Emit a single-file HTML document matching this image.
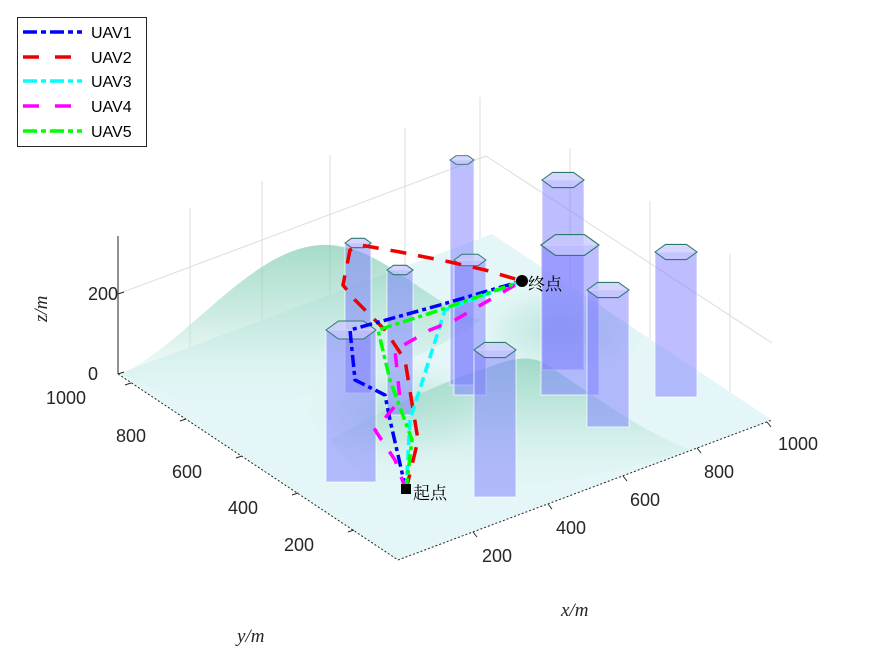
<!DOCTYPE html>
<html><head><meta charset="utf-8"><style>
html,body{margin:0;padding:0;background:#fff;}
svg{display:block;font-family:"Liberation Sans",sans-serif;}
</style></head><body>
<svg width="875" height="656" viewBox="0 0 875 656" xmlns="http://www.w3.org/2000/svg">
<defs>
<radialGradient id="h" cx="50%" cy="50%" r="50%">
<stop offset="0" stop-color="#6cc4a6" stop-opacity="0.9"/>
<stop offset="0.6" stop-color="#9ed9c6" stop-opacity="0.5"/>
<stop offset="1" stop-color="#dff3f1" stop-opacity="0"/>
</radialGradient>
<linearGradient id="hv" x1="0" y1="0" x2="0" y2="1">
<stop offset="0" stop-color="#6cc4a6"/>
<stop offset="0.45" stop-color="#b5e2d6"/>
<stop offset="1" stop-color="#e4f6f7" stop-opacity="0"/>
</linearGradient>
<clipPath id="fl"><polygon points="118,374 492,234 772,420 398,560 118,374"/></clipPath>
<polygon id="hx" points="-0.5,0 -0.25,-0.18 0.25,-0.18 0.5,0 0.25,0.18 -0.25,0.18"/>
</defs>
<g stroke="#dcdcdc" stroke-width="1" fill="none">
<line x1="118" y1="236" x2="118" y2="374"/>
<line x1="190" y1="208" x2="190" y2="347"/>
<line x1="262" y1="181" x2="262" y2="320"/>
<line x1="330" y1="155" x2="330" y2="295"/>
<line x1="405" y1="128" x2="405" y2="267"/>
<line x1="480" y1="97" x2="480" y2="238"/>
<line x1="570" y1="148" x2="570" y2="287"/>
<line x1="650" y1="201" x2="650" y2="340"/>
<line x1="730" y1="254" x2="730" y2="392"/>
<line x1="118" y1="294" x2="486" y2="156"/>
<line x1="486" y1="156" x2="772" y2="343"/>
</g>
<polygon points="118,374 492,234 772,420 398,560" fill="#e4f6f7"/>
<g clip-path="url(#fl)">
<ellipse cx="560" cy="330" rx="90" ry="50" fill="url(#h)" opacity="0.4"/>
<ellipse cx="400" cy="410" rx="100" ry="55" fill="url(#h)" opacity="0.4"/>
</g>
<path d="M122,374 C190,340 250,250 320,245 C380,242 420,300 480,320 C430,360 300,400 220,420 Z" fill="url(#hv)" opacity="0.6"/>
<path d="M330,440 C400,400 450,380 480,370 C510,360 530,350 555,370 C600,400 640,430 690,450 C600,480 450,500 380,500 Z" fill="url(#hv)" opacity="0.55"/>
<g fill="#7b7bff" fill-opacity="0.5" stroke="#ffffff" stroke-opacity="0.7" stroke-width="1">
<rect x="450" y="160" width="24" height="225"/>
<rect x="542" y="180" width="42" height="190"/>
<rect x="541" y="245" width="58" height="150"/>
<rect x="655" y="252" width="42" height="145"/>
<rect x="587" y="290" width="42" height="137"/>
<rect x="454" y="260" width="32" height="135"/>
<rect x="345" y="243" width="26" height="150"/>
<rect x="387" y="270" width="26" height="145"/>
<rect x="326" y="330" width="50" height="152"/>
<rect x="474" y="350" width="42" height="147"/>
</g>
<g fill="#c8c8ff" fill-opacity="0.75" stroke="#2d7a6a">
<use href="#hx" transform="translate(462,160) scale(24)" style="stroke-width:0.04"/>
<use href="#hx" transform="translate(563,180) scale(42)" style="stroke-width:0.025"/>
<use href="#hx" transform="translate(570,245) scale(58)" style="stroke-width:0.02"/>
<use href="#hx" transform="translate(676,252) scale(42)" style="stroke-width:0.025"/>
<use href="#hx" transform="translate(608,290) scale(42)" style="stroke-width:0.025"/>
<use href="#hx" transform="translate(470,260) scale(32)" style="stroke-width:0.03"/>
<use href="#hx" transform="translate(358,243) scale(26)" style="stroke-width:0.04"/>
<use href="#hx" transform="translate(400,270) scale(26)" style="stroke-width:0.04"/>
<use href="#hx" transform="translate(351,330) scale(50)" style="stroke-width:0.02"/>
<use href="#hx" transform="translate(495,350) scale(42)" style="stroke-width:0.025"/>
</g>
<g fill="none" stroke-width="3.5">
<polyline stroke="#e00" stroke-dasharray="16,12" points="406,490 418,440 405,360 385,330 355,300 343,285 350,250 360,245 400,252 450,262 485,270 522,281"/>
<polyline stroke="#00f" stroke-dasharray="12,4,4,4" points="406,490 390,420 385,395 355,380 350,330 440,305 522,281"/>
<polyline stroke="#0ff" stroke-dasharray="10,5" points="406,490 410,420 445,310 522,281"/>
<polyline stroke="#f0f" stroke-dasharray="14,14" points="406,490 395,460 375,430 400,400 395,350 430,330 455,320 522,281"/>
<polyline stroke="#0f0" stroke-dasharray="12,4,4,4" points="406,490 412,440 390,380 378,330 440,310 522,281"/>
</g>
<rect x="401" y="484" width="10" height="10" fill="#000"/>
<circle cx="522" cy="281" r="6" fill="#000"/>
<text x="413" y="499" font-size="17" font-family="Liberation Serif,'Noto Serif CJK SC',serif">起点</text>
<text x="528" y="290" font-size="17" font-family="Liberation Serif,'Noto Serif CJK SC',serif">终点</text>
<g stroke="#262626" stroke-width="1" fill="none">
<line x1="118" y1="374" x2="398" y2="560" stroke-dasharray="2,2"/>
<line x1="398" y1="560" x2="772" y2="420" stroke-dasharray="2,2"/>
<line x1="118" y1="236" x2="118" y2="374"/>
<line x1="118" y1="294" x2="124" y2="292"/>
<line x1="118" y1="374" x2="124" y2="372"/>
<line x1="131" y1="383" x2="125" y2="385"/>
<line x1="186" y1="419" x2="180" y2="421"/>
<line x1="242" y1="456" x2="236" y2="458"/>
<line x1="298" y1="493" x2="292" y2="495"/>
<line x1="354" y1="530" x2="348" y2="532"/>
<line x1="473" y1="532" x2="477" y2="537"/>
<line x1="548" y1="504" x2="552" y2="509"/>
<line x1="623" y1="476" x2="627" y2="481"/>
<line x1="697" y1="448" x2="701" y2="453"/>
<line x1="767" y1="422" x2="771" y2="427"/>
</g>
<g font-size="18" fill="#262626">
<text x="88" y="300">200</text>
<text x="88" y="380">0</text>
<text x="46" y="404">1000</text>
<text x="116" y="442">800</text>
<text x="172" y="478">600</text>
<text x="228" y="514">400</text>
<text x="284" y="551">200</text>
<text x="482" y="562">200</text>
<text x="556" y="534">400</text>
<text x="630" y="506">600</text>
<text x="704" y="478">800</text>
<text x="778" y="450">1000</text>
</g>
<g font-size="19" font-family="Liberation Serif,serif" font-style="italic" fill="#262626">
<text x="561" y="616">x/m</text>
<text x="237" y="642">y/m</text>
<text transform="translate(47,322) rotate(-90)">z/m</text>
</g>
<rect x="17.5" y="17.5" width="129" height="129" fill="#fff" stroke="#262626"/>
<g stroke-width="3.5">
<line x1="23" y1="32" x2="82" y2="32" stroke="#00f" stroke-dasharray="14,4,5,4"/>
<line x1="23" y1="57" x2="82" y2="57" stroke="#e00" stroke-dasharray="16,16"/>
<line x1="23" y1="81" x2="82" y2="81" stroke="#0ff" stroke-dasharray="14,4,5,4"/>
<line x1="23" y1="106" x2="82" y2="106" stroke="#f0f" stroke-dasharray="16,16"/>
<line x1="23" y1="131" x2="82" y2="131" stroke="#0f0" stroke-dasharray="14,4,5,4"/>
</g>
<g font-size="16" fill="#000">
<text x="91" y="38">UAV1</text>
<text x="91" y="63">UAV2</text>
<text x="91" y="87">UAV3</text>
<text x="91" y="112">UAV4</text>
<text x="91" y="137">UAV5</text>
</g>
</svg>
</body></html>
